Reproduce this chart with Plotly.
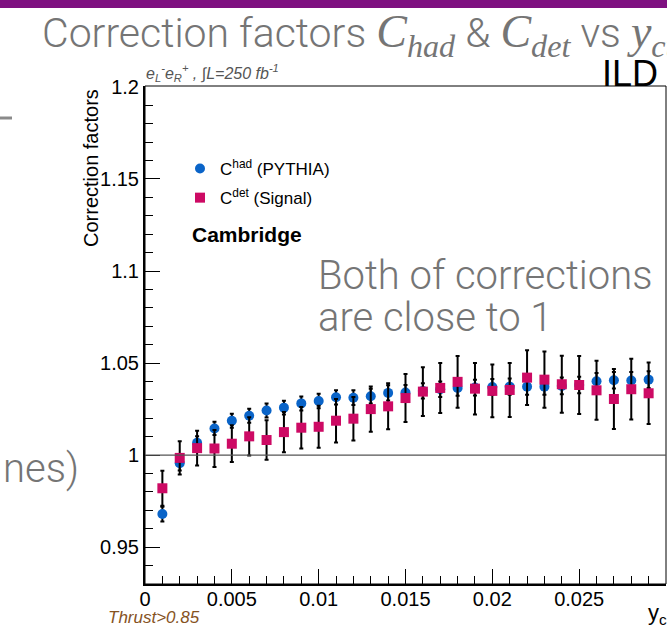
import plotly.graph_objects as go

# ---------------- data ----------------
y_cut = [0.001, 0.002, 0.003, 0.004, 0.005, 0.006, 0.007, 0.008, 0.009, 0.010,
         0.011, 0.012, 0.013, 0.014, 0.015, 0.016, 0.017, 0.018, 0.019, 0.020,
         0.021, 0.022, 0.023, 0.024, 0.025, 0.026, 0.027, 0.028, 0.029]

c_had = [0.968, 0.9956, 1.0067, 1.0145, 1.0187, 1.0214, 1.0242, 1.0258, 1.0281, 1.0294,
         1.0314, 1.0312, 1.0320, 1.0338, 1.0340, 1.0349, 1.0358, 1.0365, 1.0367, 1.0370,
         1.0372, 1.0372, 1.0372, 1.0376, 1.0381, 1.0401, 1.0407, 1.0405, 1.0410]
c_had_err = [0.0040, 0.0040, 0.0036, 0.0036, 0.0038, 0.0038, 0.0038, 0.0037, 0.0038, 0.0039,
             0.0039, 0.0040, 0.0040, 0.0041, 0.0041, 0.0042, 0.0042, 0.0043, 0.0043, 0.0043,
             0.0044, 0.0044, 0.0044, 0.0045, 0.0045, 0.0045, 0.0045, 0.0046, 0.0046]

c_det = [0.982, 0.9985, 1.0038, 1.0036, 1.0062, 1.0102, 1.0082, 1.0125, 1.0149, 1.0154,
         1.0187, 1.0198, 1.0250, 1.0265, 1.0310, 1.0345, 1.0365, 1.0398, 1.0361, 1.0349,
         1.0354, 1.0421, 1.0410, 1.0385, 1.0381, 1.0352, 1.0305, 1.0358, 1.0336]
c_det_err = [0.0095, 0.0090, 0.0095, 0.0100, 0.0100, 0.0104, 0.0107, 0.0109, 0.0113, 0.0114,
             0.0118, 0.0118, 0.0123, 0.0125, 0.0130, 0.0133, 0.0136, 0.0140, 0.0140, 0.0143,
             0.0147, 0.0149, 0.0153, 0.0155, 0.0158, 0.0160, 0.0163, 0.0165, 0.0167]

x_tickvals = [0, 0.005, 0.01, 0.015, 0.02, 0.025, 0.03]
x_ticktext = ["0", "0.005", "0.01", "0.015", "0.02", "0.025", "0.03"]
y_tickvals = [0.95, 1.0, 1.05, 1.1, 1.15, 1.2]
y_ticktext = ["0.95", "1", "1.05", "1.1", "1.15", "1.2"]

# ---------------- layout geometry ----------------
W, H = 667, 629
L, R, T, B = 145, 1, 86, 45
PW, PH = W - L - R, H - T - B


def px(x):
    return (x - L) / PW


def py(y):
    return (H - B - y) / PH


BLUE = "#0a64c8"
MAGENTA = "#cd0a64"
GRAY = "#757575"
ROOTFONT = "Liberation Sans"
SLIDEFONT = "Roboto"

fig = go.Figure()

fig.add_trace(go.Scatter(
    x=y_cut, y=c_had, mode="markers", name="C<sup>had</sup> (PYTHIA)",
    legendgroup="a",
    marker=dict(symbol="circle", size=10, color=BLUE),
    error_y=dict(type="data", array=c_had_err, color="black", thickness=2, width=2),
))
fig.add_trace(go.Scatter(
    x=y_cut, y=c_det, mode="markers", name="C<sup>det</sup> (Signal)",
    legendgroup="b",
    marker=dict(symbol="square", size=10, color=MAGENTA),
    error_y=dict(type="data", array=c_det_err, color="black", thickness=2, width=2),
))

axis_common = dict(
    showgrid=False, zeroline=False, showline=True, linecolor="black", linewidth=2,
    ticks="inside", ticklen=15, tickwidth=1, tickcolor="black",
    tickfont=dict(family=ROOTFONT, size=20, color="black"),
)

fig.update_xaxes(range=[0, 0.03], tickmode="array", tickvals=x_tickvals, ticktext=x_ticktext,
                 ticklabelstandoff=-4,
                 minor=dict(dtick=0.001, tick0=0, ticks="inside", ticklen=8, tickcolor="black"),
                 **axis_common)
fig.update_yaxes(range=[0.93, 1.2005], tickmode="array", tickvals=y_tickvals, ticktext=y_ticktext,
                 minor=dict(dtick=0.01, tick0=0.9, ticks="inside", ticklen=8, tickcolor="black"),
                 **axis_common)

shapes = [
    # frame
    dict(type="rect", xref="paper", yref="paper", x0=0, x1=1, y0=0, y1=1,
         line=dict(color="black", width=1)),
    # reference line at 1
    dict(type="line", xref="x", yref="y", x0=0, x1=0.03, y0=1, y1=1,
         line=dict(color="#555555", width=1.3)),
    # purple bar of the slide
    dict(type="rect", xref="paper", yref="paper", x0=px(0), x1=px(W), y0=py(8), y1=py(-2),
         fillcolor="#7e1080", line=dict(width=0), layer="above"),
    # dash on the left of slide
    dict(type="line", xref="paper", yref="paper", x0=px(0), x1=px(12), y0=py(118), y1=py(118),
         line=dict(color="#8a8a8a", width=3)),
]

serif = "font-family:Liberation Serif;font-size:46px"
title_txt = ("Correction factors "
             f"<span style=\"{serif}\"><i>C<sub>had</sub></i></span> &amp; "
             f"<span style=\"{serif}\"><i>C<sub>det</sub></i></span> vs "
             f"<span style=\"{serif}\"><i>y<sub>cut</sub></i></span>")


def ann(text, x, y, xanchor, yanchor, font, **kw):
    return dict(text=text, x=px(x), y=py(y), xref="paper", yref="paper",
                xanchor=xanchor, yanchor=yanchor, showarrow=False, font=font, **kw)


slide_font = dict(family=SLIDEFONT, size=40, color=GRAY, weight=300)
title_font = dict(family=SLIDEFONT, size=41, color=GRAY, weight=300)

annotations = [
    ann(title_txt, 40, 35, "left", "middle", title_font),
    ann("Both of corrections", 316, 275, "left", "middle", slide_font),
    ann("are close to 1", 316, 317, "left", "middle", slide_font),
    ann("nes)", 81, 468, "right", "middle", slide_font),
    ann("ILD", 630, 74, "center", "middle", dict(family=ROOTFONT, size=36, color="black")),
    ann("<i>e<sub>L</sub><sup>-</sup>e<sub>R</sub><sup>+</sup> , ∫L=250 fb<sup>-1</sup></i>",
        144, 73, "left", "middle", dict(family=ROOTFONT, size=16, color="#555555")),
    ann("Correction factors", 91, 87, "center", "top",
        dict(family=ROOTFONT, size=20, color="black"), textangle=-90),
    ann("<b>Cambridge</b>", 190, 235, "left", "middle", dict(family=ROOTFONT, size=21, color="black")),
    ann("<i>Thrust&gt;0.85</i>", 106, 617, "left", "middle",
        dict(family=ROOTFONT, size=17, color="#86531f")),
    ann("y<sub>c</sub>", 646, 614, "left", "middle", dict(family=ROOTFONT, size=22, color="black")),
]

fig.update_layout(
    width=W, height=H,
    margin=dict(l=L, r=R, t=T, b=B, pad=0),
    paper_bgcolor="white", plot_bgcolor="white",
    shapes=shapes, annotations=annotations,
    showlegend=True,
    legend=dict(x=px(180), y=py(151), xanchor="left", yanchor="top",
                bgcolor="rgba(0,0,0,0)", borderwidth=0,
                font=dict(family=ROOTFONT, size=17, color="black"),
                traceorder="grouped", tracegroupgap=4, itemwidth=30),
)

fig.write_html("out.html")
